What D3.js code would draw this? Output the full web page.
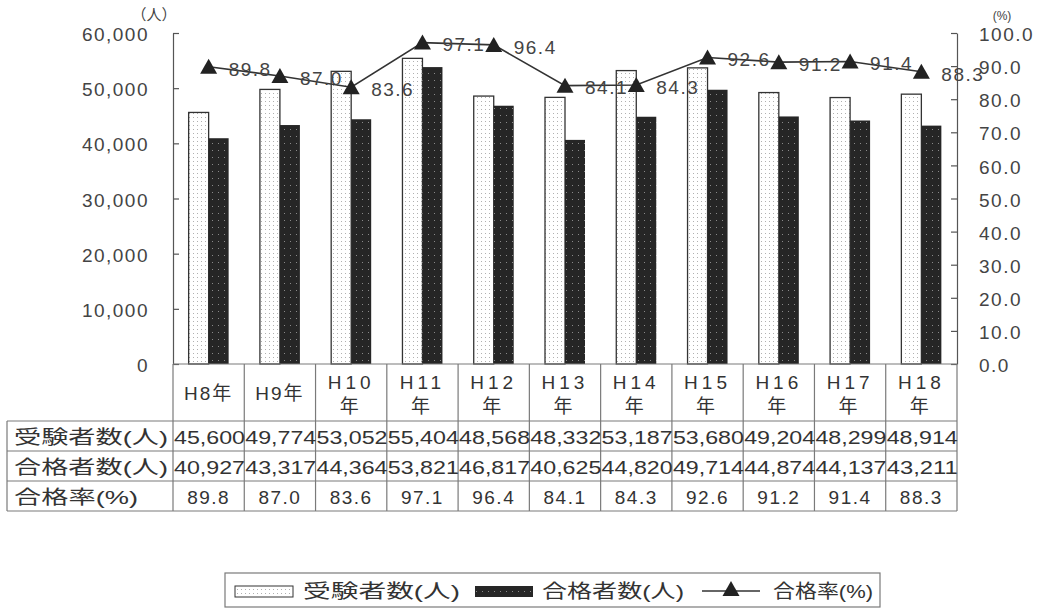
<!DOCTYPE html>
<html>
<head>
<meta charset="utf-8">
<script src="https://cdn.jsdelivr.net/npm/d3@7"></script>
<style>
  body { margin: 0; background: #fff; }
  text { font-family: "Liberation Sans", Arial, "Noto Sans CJK JP", sans-serif; }
</style>
</head>
<body>
<div id="canvas"></div>
<script>
"use strict";

let svgWidth = 1041;
let svgHeight = 615;

// data
let categories = ["H8年", "H9年", "H10年", "H11年", "H12年", "H13年", "H14年", "H15年", "H16年", "H17年", "H18年"];
let examinees = [45600, 49774, 53052, 55404, 48568, 48332, 53187, 53680, 49204, 48299, 48914];
let passers = [40927, 43317, 44364, 53821, 46817, 40625, 44820, 49714, 44874, 44137, 43211];
let passRate = [89.8, 87.0, 83.6, 97.1, 96.4, 84.1, 84.3, 92.6, 91.2, 91.4, 88.3];
let leftTicks = [0, 10000, 20000, 30000, 40000, 50000, 60000];
let rightTicks = [0, 10, 20, 30, 40, 50, 60, 70, 80, 90, 100];
let rowLabels = ["受験者数(人)", "合格者数(人)", "合格率(%)"];

let plotLeft = 173, plotRight = 957;
let plotTop = 33, plotBottom = 364;
let headBottom = 421, rowH = 30;
let tableLeft = 7;
let ink = "#333";
let lineGrey = "#7a7a7a";

let svg = d3.select("#canvas")
  .append("svg")
  .attr("width", svgWidth)
  .attr("height", svgHeight);

/* patterns for the bars */
let defs = svg.append("defs");
let dots = defs.append("pattern")
  .attr("id", "dots")
  .attr("width", 4).attr("height", 4)
  .attr("patternUnits", "userSpaceOnUse");
dots.append("rect").attr("width", 4).attr("height", 4).attr("fill", "#fff");
dots.append("rect").attr("x", 1).attr("y", 1).attr("width", 1).attr("height", 1).attr("fill", "#b0b0b0");

let dark = defs.append("pattern")
  .attr("id", "dark")
  .attr("width", 6).attr("height", 7)
  .attr("patternUnits", "userSpaceOnUse");
dark.append("rect").attr("width", 6).attr("height", 7).attr("fill", "#262626");
dark.append("rect").attr("x", 2).attr("y", 3).attr("width", 1).attr("height", 1).attr("fill", "#8a8a8a");

/* scales */
let xScale = d3.scaleBand()
  .domain(categories)
  .range([plotLeft, plotRight])
  .padding(0);
let bw = xScale.bandwidth();

let subScale = d3.scaleBand()
  .domain(["exam", "pass"])
  .range([bw / 2 - 20, bw / 2 + 20]);

let yLeft = d3.scaleLinear().domain([0, 60000]).range([plotBottom, plotTop]);
let yRight = d3.scaleLinear().domain([0, 100]).range([plotBottom, plotTop]);

/* bars */
svg.append("g").selectAll("rect")
  .data(examinees)
  .enter()
  .append("rect")
  .attr("x", function(d, i){ return xScale(categories[i]) + subScale("exam"); })
  .attr("y", function(d){ return yLeft(d); })
  .attr("width", subScale.bandwidth())
  .attr("height", function(d){ return plotBottom - yLeft(d); })
  .attr("fill", "url(#dots)")
  .attr("stroke", ink)
  .attr("stroke-width", 1.3);

svg.append("g").selectAll("rect")
  .data(passers)
  .enter()
  .append("rect")
  .attr("x", function(d, i){ return xScale(categories[i]) + subScale("pass"); })
  .attr("y", function(d){ return yLeft(d); })
  .attr("width", subScale.bandwidth())
  .attr("height", function(d){ return plotBottom - yLeft(d); })
  .attr("fill", "url(#dark)");

/* axes */
let axL = svg.append("g")
  .attr("transform", "translate(" + plotLeft + ",0)")
  .call(d3.axisLeft(yLeft).tickValues(leftTicks).tickFormat(d3.format(",")).tickSize(-6).tickSizeOuter(0).tickPadding(24));
let axR = svg.append("g")
  .attr("transform", "translate(" + plotRight + ",0)")
  .call(d3.axisRight(yRight).tickValues(rightTicks).tickFormat(d3.format(".1f")).tickSize(-6).tickSizeOuter(0).tickPadding(22));

[axL, axR].forEach(function(ax){
  ax.select(".domain").attr("stroke", "#555").attr("stroke-width", 1.2);
  ax.selectAll(".tick line").attr("stroke", "#555").attr("stroke-width", 1.2);
  ax.selectAll(".tick text")
    .attr("fill", "#444")
    .style("font-size", "19px")
    .style("letter-spacing", "1.5px")
    .attr("dy", "0.4em");
});

// unit labels
svg.append("text")
  .attr("x", 154).attr("y", 20)
  .attr("text-anchor", "middle")
  .style("font-family", "'Noto Sans CJK JP', sans-serif")
  .style("font-size", "15px").attr("fill", "#444")
  .text("（人）");
svg.append("text")
  .attr("x", 1002).attr("y", 20)
  .attr("text-anchor", "middle")
  .style("font-size", "12px").attr("fill", "#444")
  .text("(%)");

/* rate line */
let rateLine = d3.line()
  .x(function(d, i){ return xScale(categories[i]) + bw / 2; })
  .y(function(d){ return yRight(d); });

svg.append("path")
  .datum(passRate)
  .attr("d", rateLine)
  .attr("fill", "none")
  .attr("stroke", ink)
  .attr("stroke-width", 1.6);

let tri = "M0,-9L8.5,6L-8.5,6Z";
svg.append("g").selectAll("path")
  .data(passRate)
  .enter()
  .append("path")
  .attr("d", tri)
  .attr("transform", function(d, i){
    return "translate(" + (xScale(categories[i]) + bw / 2) + "," + (yRight(d) + 1) + ")";
  })
  .attr("fill", "#222");

svg.append("g").selectAll("text")
  .data(passRate)
  .enter()
  .append("text")
  .attr("x", function(d, i){ return xScale(categories[i]) + bw / 2 + 20; })
  .attr("y", function(d){ return yRight(d) + 2; })
  .attr("dy", "0.36em")
  .attr("fill", "#444")
  .style("font-size", "19px")
  .style("letter-spacing", "1.5px")
  .text(function(d){ return d.toFixed(1); });

/* category header + data table */
let grid = svg.append("g")
  .attr("stroke", lineGrey)
  .attr("stroke-width", 1.2);

// vertical lines through header and table
let bounds = categories.map(function(c){ return xScale(c); }).concat([plotRight]);
bounds.forEach(function(bx){
  grid.append("line")
    .attr("x1", bx).attr("x2", bx)
    .attr("y1", plotBottom).attr("y2", headBottom + rowH * 3);
});
grid.append("line")
  .attr("x1", plotLeft).attr("x2", plotRight)
  .attr("y1", plotBottom).attr("y2", plotBottom);
grid.append("line")
  .attr("x1", tableLeft).attr("x2", tableLeft)
  .attr("y1", headBottom).attr("y2", headBottom + rowH * 3);
for (let r = 0; r <= 3; r++) {
  grid.append("line")
    .attr("x1", tableLeft).attr("x2", plotRight)
    .attr("y1", headBottom + r * rowH).attr("y2", headBottom + r * rowH);
}

// category labels
let catText = svg.append("g");
categories.forEach(function(c){
  let cx = xScale(c) + bw / 2;
  let lines = c.length > 3 ? [c.slice(0, -1), c.slice(-1)] : [c];
  let startY = lines.length > 1 ? 382 : 393;
  lines.forEach(function(s, k){
    catText.append("text")
      .attr("x", cx)
      .attr("y", startY + k * 24)
      .attr("dy", "0.36em")
      .attr("text-anchor", "middle")
      .attr("fill", ink)
      .style("font-size", "19px")
      .style("letter-spacing", lines.length > 1 ? "4px" : "2px")
      .text(s);
  });
});

// row labels
let rowWidths = [154, 154, 124];
rowLabels.forEach(function(lbl, r){
  svg.append("text")
    .attr("x", 14)
    .attr("y", headBottom + r * rowH + rowH / 2 + 1)
    .attr("dy", "0.36em")
    .attr("fill", ink)
    .attr("textLength", rowWidths[r])
    .attr("lengthAdjust", "spacingAndGlyphs")
    .style("font-size", "19px")
    .text(lbl);
});

// row values
let rows = [
  examinees.map(d3.format(",")),
  passers.map(d3.format(",")),
  passRate.map(function(d){ return d.toFixed(1); })
];
rows.forEach(function(vals, r){
  vals.forEach(function(v, i){
    let t = svg.append("text")
      .attr("x", r < 2 ? xScale(categories[i]) + 1 : xScale(categories[i]) + bw / 2)
      .attr("y", headBottom + r * rowH + rowH / 2 + 1)
      .attr("dy", "0.36em")
      .attr("fill", ink)
      .style("font-size", "19px")
      .text(v);
    if (r < 2) {
      t.attr("textLength", 71).attr("lengthAdjust", "spacingAndGlyphs");
    } else {
      t.attr("text-anchor", "middle").style("letter-spacing", "1.5px");
    }
  });
});

/* legend */
let lg = svg.append("g");
lg.append("rect")
  .attr("x", 225).attr("y", 573)
  .attr("width", 655).attr("height", 34)
  .attr("fill", "#fff")
  .attr("stroke", lineGrey)
  .attr("stroke-width", 1.2);

let legY = 591;
lg.append("rect")
  .attr("x", 235).attr("y", legY - 5)
  .attr("width", 58).attr("height", 11)
  .attr("fill", "url(#dots)")
  .attr("stroke", ink);
lg.append("text")
  .attr("x", 303).attr("y", legY)
  .attr("dy", "0.36em")
  .attr("fill", ink)
  .attr("textLength", 157).attr("lengthAdjust", "spacingAndGlyphs")
  .style("font-size", "19px")
  .text(rowLabels[0]);

lg.append("rect")
  .attr("x", 475).attr("y", legY - 5)
  .attr("width", 58).attr("height", 11)
  .attr("fill", "url(#dark)");
lg.append("text")
  .attr("x", 542).attr("y", legY)
  .attr("dy", "0.36em")
  .attr("fill", ink)
  .attr("textLength", 142).attr("lengthAdjust", "spacingAndGlyphs")
  .style("font-size", "19px")
  .text(rowLabels[1]);

lg.append("line")
  .attr("x1", 702).attr("x2", 760)
  .attr("y1", legY).attr("y2", legY)
  .attr("stroke", ink).attr("stroke-width", 1.6);
lg.append("path")
  .attr("d", tri)
  .attr("transform", "translate(731," + (legY - 1) + ")")
  .attr("fill", "#222");
lg.append("text")
  .attr("x", 773).attr("y", legY)
  .attr("dy", "0.36em")
  .attr("fill", ink)
  .attr("textLength", 100).attr("lengthAdjust", "spacingAndGlyphs")
  .style("font-size", "19px")
  .text(rowLabels[2]);
</script>
</body>
</html>
